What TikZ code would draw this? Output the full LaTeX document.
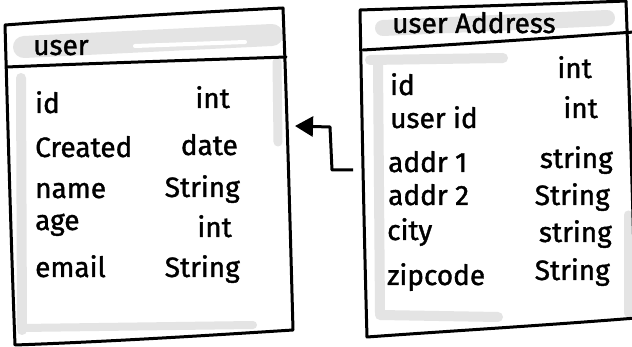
\documentclass[tikz,border=0pt]{standalone}
\usepackage{fontspec}
\setmainfont{Fira Sans}[FakeBold=1.3]
\usetikzlibrary{arrows.meta}
\definecolor{hl}{HTML}{E4E4E4}
\tikzset{
  x=1pt,y=-1pt,
  outline/.style={line width=3pt,line join=round,line cap=round,black},
  hlband/.style={line width=#1,line cap=round,hl},
  fld/.style={anchor=base west,inner sep=0pt,font=\fontsize{28}{30}\selectfont},
  typ/.style={anchor=base east,inner sep=0pt,font=\fontsize{28}{30}\selectfont},
  ttl/.style={anchor=base west,inner sep=0pt,font=\fontsize{28}{30}\selectfont},
  conn/.style={line width=3pt,line join=round,-{Triangle[length=18pt,width=20pt]}},
}
\begin{document}
\begin{tikzpicture}
\useasboundingbox (0,0) rectangle (632,347);
\fill[white] (0,0) rectangle (632,347);
% ---------- left box: user ----------
\draw[hlband=22pt] (24,47) -- (272,35);
\draw[line width=4pt,white,line cap=round] (135,46) -- (245,42);
\draw[hlband=10pt] (21,78) -- (22,330);
\draw[hlband=8pt] (22,328) -- (253,325);
\draw[hlband=9pt] (277,62) -- (278,142);
\draw[outline] (5,25) .. controls (100,18) and (200,12) .. (283,8)
  .. controls (287,110) and (290,220) .. (293,330)
  .. controls (200,336) and (100,342) .. (15,345)
  .. controls (11,240) and (8,130) .. (5,25) -- cycle;
\draw[outline] (7,67) .. controls (100,63) and (200,60) .. (286,57);
\node[ttl] (ut) at (33,55) {user};
\node[fld] (u1) at (35,113) {id};       \node[typ] (t1) at (230,108) {int};
\node[fld] (u2) at (35,157) {Created};  \node[typ] (t2) at (238,155) {date};
\node[fld] (u3) at (35,198) {name};     \node[typ] (t3) at (240,197) {String};
\node[fld] (u4) at (35,230) {age};      \node[typ] (t4) at (232,237) {int};
\node[fld] (u5) at (35,277) {email};    \node[typ] (t5) at (240,277) {String};
\node[inner sep=0pt,minimum width=280pt,minimum height=320pt] (user) at (149,177) {};
% ---------- right box: user Address ----------
\draw[hlband=16pt] (383,28) -- (607,18);
\draw[hlband=10pt] (370,60) -- (503,58);
\draw[hlband=10pt] (378,62) -- (380,313);
\draw[hlband=10pt] (380,315) -- (498,317);
\draw[hlband=9pt] (628,215) -- (628,313);
\draw[outline] (360,10) .. controls (450,7) and (550,4) .. (626,1)
  .. controls (630,110) and (633,220) .. (636,318)
  .. controls (550,325) and (450,331) .. (367,337)
  .. controls (364,230) and (362,120) .. (360,10) -- cycle;
\draw[outline] (363,50) .. controls (450,45) and (550,38) .. (634,32);
\node[ttl] (at) at (392,33) {user Address};
\node[fld] (a1) at (390,95)  {id};       \node[typ] (b1) at (592,78)  {int};
\node[fld] (a2) at (390,128) {user id};  \node[typ] (b2) at (598,118) {int};
\node[fld] (a3) at (388,172) {addr 1};   \node[typ] (b3) at (613,168) {string};
\node[fld] (a4) at (388,205) {addr 2};   \node[typ] (b4) at (610,205) {String};
\node[fld] (a5) at (387,240) {city};     \node[typ] (b5) at (612,242) {string};
\node[fld] (a6) at (387,285) {zipcode};  \node[typ] (b6) at (610,280) {String};
\node[inner sep=0pt,minimum width=270pt,minimum height=330pt] (addr) at (497,170) {};
% ---------- connector ----------
\coordinate (from) at (353,170);
\coordinate (to) at (295,126);
\draw[conn] (from) -- (332,170) -- (330,127) -- (to);
\end{tikzpicture}
\end{document}
